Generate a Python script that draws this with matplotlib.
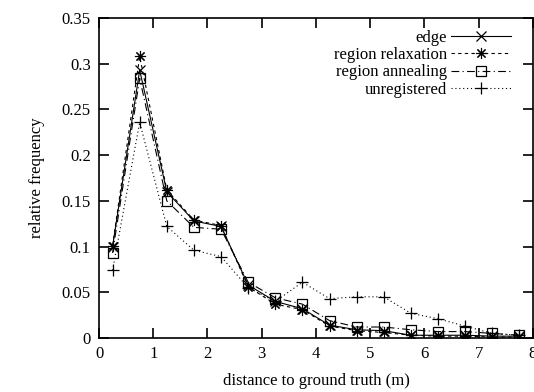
import matplotlib
matplotlib.use('Agg')
import matplotlib.pyplot as plt

# bin centres (m)
distance = [0.25, 0.75, 1.25, 1.75, 2.25, 2.75, 3.25, 3.75,
            4.25, 4.75, 5.25, 5.75, 6.25, 6.75, 7.25, 7.75]

edge = [0.100, 0.293, 0.160, 0.128, 0.122, 0.058, 0.040, 0.032,
        0.014, 0.009, 0.008, 0.003, 0.003, 0.003, 0.002, 0.002]
region_relaxation = [0.101, 0.308, 0.162, 0.129, 0.123, 0.056, 0.037, 0.031,
                     0.013, 0.008, 0.006, 0.003, 0.002, 0.002, 0.001, 0.001]
region_annealing = [0.093, 0.284, 0.150, 0.121, 0.119, 0.061, 0.044, 0.037,
                    0.019, 0.012, 0.012, 0.009, 0.007, 0.007, 0.005, 0.003]
unregistered = [0.074, 0.236, 0.122, 0.096, 0.089, 0.055, 0.040, 0.061,
                0.043, 0.045, 0.045, 0.027, 0.021, 0.013, 0.005, 0.003]

plt.rcParams['font.family'] = ['Liberation Serif', 'DejaVu Serif']
plt.rcParams['font.size'] = 12

fig = plt.figure(figsize=(5.34, 3.92), dpi=100)
ax = fig.add_axes([0.1854, 0.1378, 0.8126, 0.8162])

lw = 0.8
ax.plot(distance, edge, color='black', linewidth=lw, linestyle='-',
        marker='x', markersize=7, markeredgewidth=0.9, label='edge')
ax.plot(distance, region_relaxation, color='black', linewidth=lw,
        linestyle=(0, (3, 3)), marker=(8, 2, 0), markersize=8,
        markeredgewidth=0.8, label='region relaxation')
ax.plot(distance, region_annealing, color='black', linewidth=lw,
        linestyle=(0, (7, 3, 1, 3)), marker='s', markersize=7,
        markerfacecolor='none', markeredgewidth=0.9, label='region annealing')
ax.plot(distance, unregistered, color='black', linewidth=lw,
        linestyle=(0, (1, 2.5)), marker='+', markersize=8,
        markeredgewidth=0.9, label='unregistered')

ax.set_xlim(0, 8)
ax.set_ylim(0, 0.35)
ax.set_xticks(range(0, 9))
ax.set_yticks([0, 0.05, 0.1, 0.15, 0.2, 0.25, 0.3, 0.35])
ax.set_yticklabels(['0', '0.05', '0.1', '0.15', '0.2', '0.25', '0.3', '0.35'])
ax.tick_params(direction='in', length=7, width=1.2, top=True, right=True, pad=6)
for s in ax.spines.values():
    s.set_linewidth(1.2)

ax.set_xlabel('distance to ground truth (m)', labelpad=8)
ax.set_ylabel('relative frequency', labelpad=12)

leg = ax.legend(loc='upper right', bbox_to_anchor=(0.977, 1.0), frameon=False,
                markerfirst=False, handlelength=3.6, handletextpad=0.25,
                labelspacing=0.08, borderaxespad=0.4, borderpad=0.3)

fig.savefig('out.png', dpi=100)
